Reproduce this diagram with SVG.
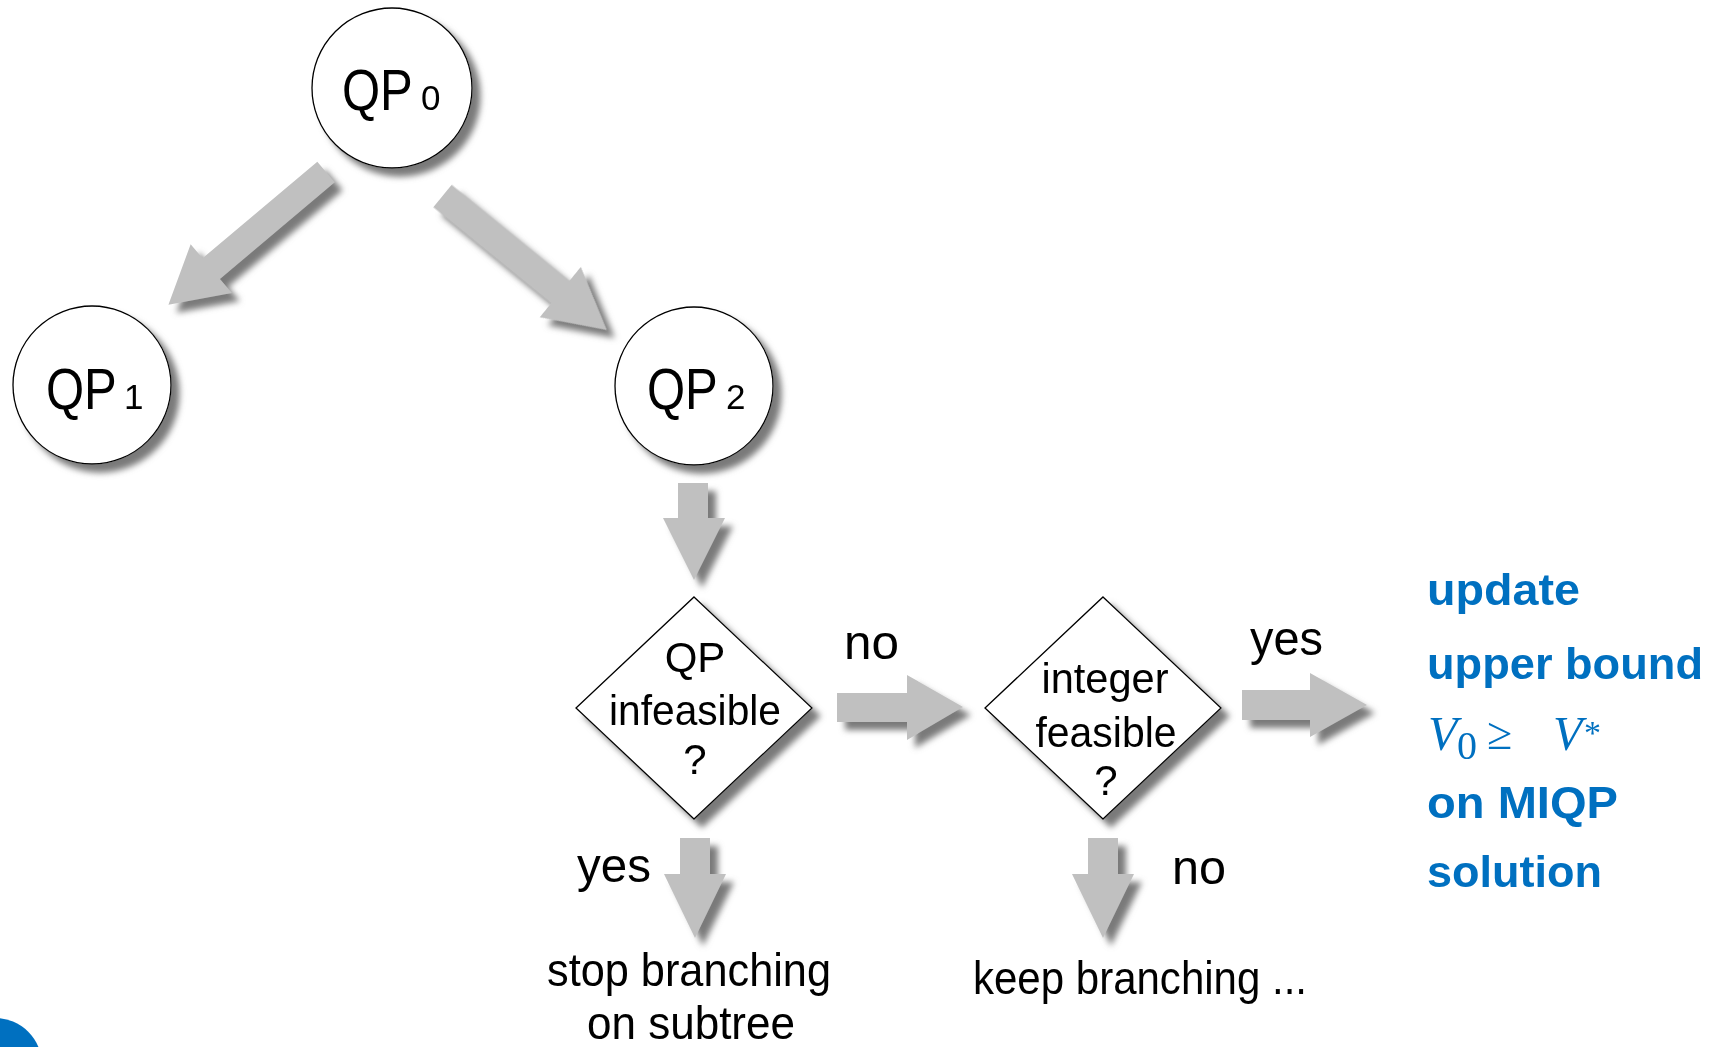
<svg xmlns="http://www.w3.org/2000/svg" width="1715" height="1047" viewBox="0 0 1715 1047">
<defs>
<filter id="sh" x="-20%" y="-20%" width="150%" height="150%">
<feGaussianBlur in="SourceAlpha" stdDeviation="3"/>
<feOffset dx="8" dy="8" result="b"/>
<feFlood flood-color="#7a7a7a"/>
<feComposite in2="b" operator="in"/>
<feMerge><feMergeNode/><feMergeNode in="SourceGraphic"/></feMerge>
</filter>
</defs>
<style>
.node{fill:#fff;stroke:#000;stroke-width:1.3}
.arr{fill:#c0c0c0;stroke:none}
.t{font-family:"Liberation Sans",Arial,sans-serif;fill:#000}
.qp{font-family:"Liberation Sans",Arial,sans-serif;fill:#000;font-size:58px}
.sub{font-family:"Liberation Sans",Arial,sans-serif;fill:#000;font-size:35px}
.blue{font-family:"Liberation Sans",Arial,sans-serif;font-weight:bold;fill:#0070c0;font-size:45px}
.math{font-family:"Liberation Serif","Times New Roman",serif;fill:#0070c0}
</style>
<rect width="1715" height="1047" fill="#fff"/>

<g id="connectors">
<g filter="url(#sh)">
<path class="arr" transform="translate(326,172) rotate(139.9)" d="M0,-13.5 L150,-13.5 L150,-32 L206,0 L150,32 L150,13.5 L0,13.5 Z"/>
<path class="arr" transform="translate(442.5,196) rotate(39.2)" d="M0,-14.5 L152,-14.5 L152,-32.5 L212,0 L152,32.5 L152,14.5 L0,14.5 Z"/>
<polygon class="arr" points="678,483 708,483 708,518 725,518 694,580 663,518 678,518"/>
<polygon class="arr" points="837,693 907,693 907,675 963,707 907,740 907,722 837,722"/>
<polygon class="arr" points="1242,690 1310,690 1310,673 1367,705 1310,737 1310,720 1242,720"/>
<polygon class="arr" points="680,838 710,838 710,874 726,874 695,938 664,874 680,874"/>
<polygon class="arr" points="1088,838 1118,838 1118,874 1134,874 1103,938 1072,874 1088,874"/>
</g>
<text class="t" x="844" y="659" font-size="48" textLength="55" lengthAdjust="spacingAndGlyphs">no</text>
<text class="t" x="1250" y="655" font-size="48" textLength="73" lengthAdjust="spacingAndGlyphs">yes</text>
<text class="t" x="577" y="882" font-size="48" textLength="74" lengthAdjust="spacingAndGlyphs">yes</text>
<text class="t" x="1172" y="884" font-size="48" textLength="54" lengthAdjust="spacingAndGlyphs">no</text>
</g>

<g id="qp0">
<circle class="node" cx="392" cy="88" r="80" filter="url(#sh)"/>
<text class="qp" transform="translate(342 110) scale(0.845 1)">QP</text>
<text class="sub" x="421" y="110">0</text>
</g>
<g id="qp1">
<circle class="node" cx="92" cy="385" r="79" filter="url(#sh)"/>
<text class="qp" transform="translate(46 409) scale(0.845 1)">QP</text>
<text class="sub" x="124" y="409">1</text>
</g>
<g id="qp2">
<circle class="node" cx="694" cy="386" r="79" filter="url(#sh)"/>
<text class="qp" transform="translate(647 409) scale(0.845 1)">QP</text>
<text class="sub" x="726" y="409">2</text>
</g>

<g id="infeasible">
<polygon class="node" points="694,597 812,708 694,819 576,708" filter="url(#sh)"/>
<text class="t" x="695" y="672" font-size="42" text-anchor="middle">QP</text>
<text class="t" x="695" y="725" font-size="42" text-anchor="middle" textLength="172" lengthAdjust="spacingAndGlyphs">infeasible</text>
<text class="t" x="695" y="774" font-size="42" text-anchor="middle">?</text>
</g>
<g id="integer">
<polygon class="node" points="1103,597 1221,708 1103,819 985,708" filter="url(#sh)"/>
<text class="t" x="1105" y="693" font-size="42" text-anchor="middle" textLength="127" lengthAdjust="spacingAndGlyphs">integer</text>
<text class="t" x="1106" y="747" font-size="42" text-anchor="middle" textLength="141" lengthAdjust="spacingAndGlyphs">feasible</text>
<text class="t" x="1106" y="795" font-size="42" text-anchor="middle">?</text>
</g>

<g id="stop">
<text class="t" x="689" y="986" font-size="46" text-anchor="middle" textLength="284" lengthAdjust="spacingAndGlyphs">stop branching</text>
<text class="t" x="691" y="1039" font-size="46" text-anchor="middle" textLength="208" lengthAdjust="spacingAndGlyphs">on subtree</text>
</g>
<g id="keep">
<text class="t" x="973" y="994" font-size="46" textLength="334" lengthAdjust="spacingAndGlyphs">keep branching ...</text>
</g>

<g id="update">
<text class="blue" x="1427" y="605" textLength="153" lengthAdjust="spacingAndGlyphs">update</text>
<text class="blue" x="1427" y="679" textLength="276" lengthAdjust="spacingAndGlyphs">upper bound</text>
<text class="math" x="1428" y="750" font-size="48" font-style="italic">V</text>
<text class="math" x="1457" y="759" font-size="40">0</text>
<text class="math" x="1487" y="749" font-size="46">≥</text>
<text class="math" x="1553" y="750" font-size="48" font-style="italic">V</text>
<text class="math" x="1584" y="744" font-size="34">*</text>
<text class="blue" x="1427" y="818" textLength="191" lengthAdjust="spacingAndGlyphs">on MIQP</text>
<text class="blue" x="1427" y="887" textLength="175" lengthAdjust="spacingAndGlyphs">solution</text>
</g>

<g id="corner">
<circle cx="-5" cy="1065" r="47" fill="#0070c0"/>
</g>
</svg>
